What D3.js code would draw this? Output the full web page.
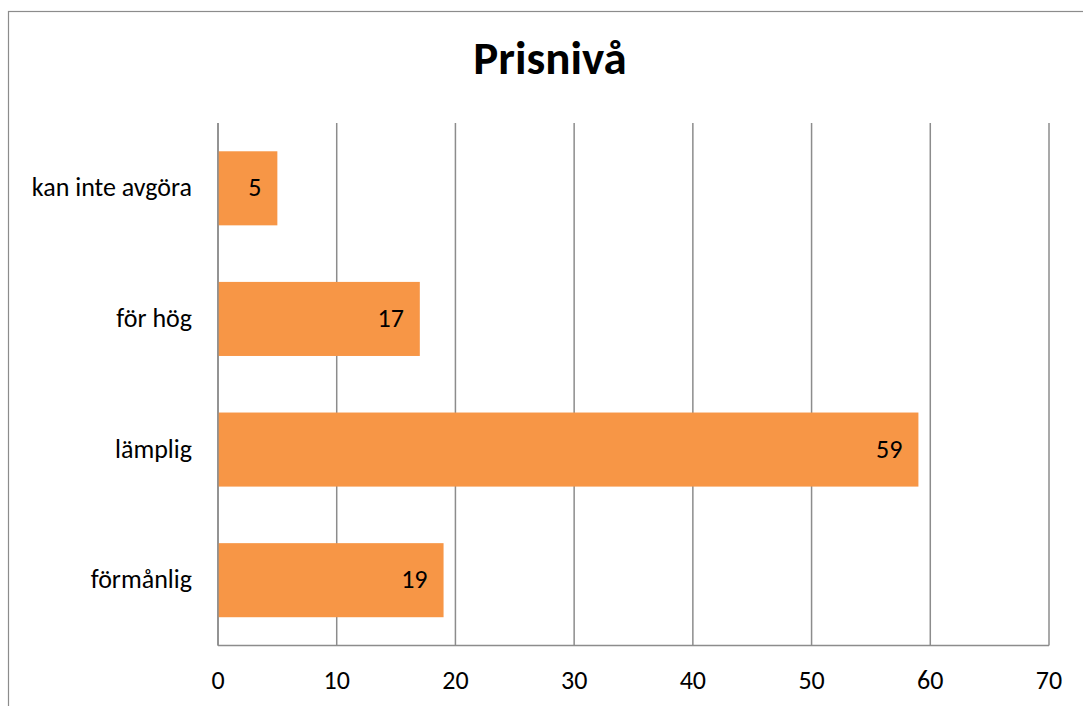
<!DOCTYPE html>
<html><head><meta charset="utf-8">
<script src="https://cdn.jsdelivr.net/npm/d3@7"></script>
<style>body{margin:0;background:#fff}svg{display:block}</style>
</head><body>
<script>
const categories = ["kan inte avgöra", "för hög", "lämplig", "förmånlig"];
const values = [5, 17, 59, 19];
const ticks = [0, 10, 20, 30, 40, 50, 60, 70];
const title = "Prisnivå";

const W = 1083, H = 706;
const font = "Carlito, Calibri, 'Open Sans', 'Liberation Sans', sans-serif";
const svg = d3.select("body").append("svg").attr("width", W).attr("height", H);

svg.append("rect").attr("x", 8.5).attr("y", 11.5).attr("width", 1090).attr("height", 720)
  .attr("fill", "none").attr("stroke", "#8c8c8c").attr("stroke-width", 1.2);

const m = {l: 218, r: 1049, t: 123, b: 645.5};
const x = d3.scaleLinear().domain([0, 70]).range([m.l, m.r]);
const y = d3.scaleBand().domain(categories).range([m.t, m.b]).paddingInner(0.433).paddingOuter(0.2165);

svg.append("g").selectAll("line").data(ticks).join("line")
  .attr("x1", d => x(d)).attr("x2", d => x(d)).attr("y1", m.t).attr("y2", m.b)
  .attr("stroke", "#8c8c8c").attr("stroke-width", 1.5);

svg.append("g").selectAll("rect").data(values).join("rect")
  .attr("x", x(0)).attr("y", (d, i) => y(categories[i]))
  .attr("width", d => x(d) - x(0)).attr("height", y.bandwidth())
  .attr("fill", "#F79646");

svg.append("line").attr("x1", m.l).attr("x2", m.r).attr("y1", m.b).attr("y2", m.b)
  .attr("stroke", "#8c8c8c").attr("stroke-width", 1.5);
svg.append("line").attr("x1", m.l).attr("x2", m.l).attr("y1", m.t).attr("y2", m.b)
  .attr("stroke", "#8c8c8c").attr("stroke-width", 1.5);

const fs = 26;
svg.append("g").selectAll("text").data(ticks).join("text")
  .attr("x", d => x(d)).attr("y", 689).attr("text-anchor", "middle")
  .attr("font-family", font).attr("font-size", fs).attr("fill", "#000").text(d => d);

svg.append("g").selectAll("text").data(categories).join("text")
  .attr("x", 192).attr("y", d => y(d) + y.bandwidth() / 2 + 8).attr("text-anchor", "end")
  .attr("font-family", font).attr("font-size", fs).attr("fill", "#000").text(d => d);

svg.append("g").selectAll("text").data(values).join("text")
  .attr("x", d => x(d) - 16).attr("y", (d, i) => y(categories[i]) + y.bandwidth() / 2 + 8)
  .attr("text-anchor", "end")
  .attr("font-family", font).attr("font-size", fs).attr("fill", "#000").text(d => d);

svg.append("text").attr("x", 550).attr("y", 74).attr("text-anchor", "middle")
  .attr("font-family", font).attr("font-size", 47).attr("font-weight", "bold").attr("fill", "#000").text(title);
</script>
</body></html>
